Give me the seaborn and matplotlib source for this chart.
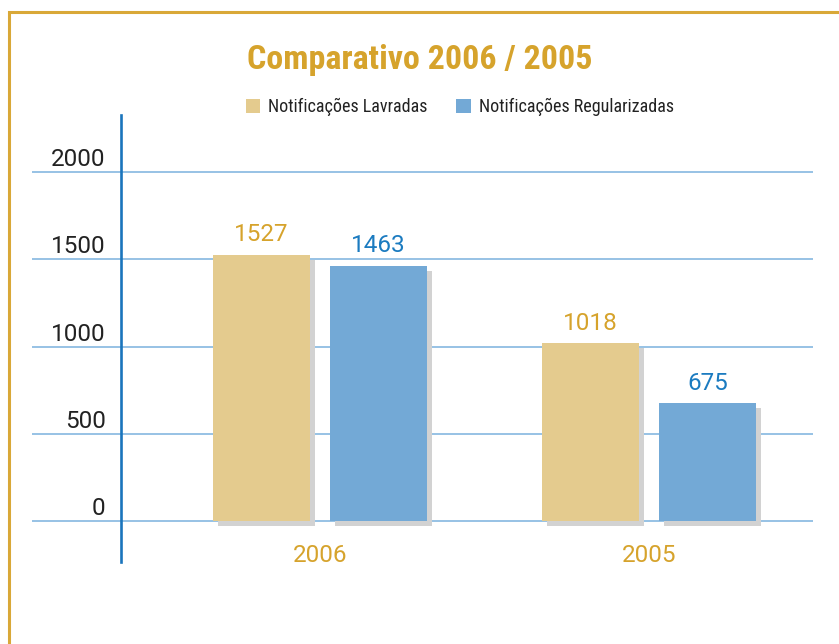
import pandas as pd
import matplotlib.pyplot as plt
import matplotlib.patheffects as pe
from matplotlib import font_manager
from matplotlib.transforms import ScaledTranslation
from matplotlib.patches import Rectangle
import seaborn as sns

# data
anos = ["2006", "2005"]
series = ["Notificações Lavradas", "Notificações Regularizadas"]
lavradas = [1527, 1018]
regularizadas = [1463, 675]
yticks = [0, 500, 1000, 1500, 2000]

gold = "#D6A32C"
gold_bar = "#E4CB8E"
blue_bar = "#73A9D6"
blue_txt = "#1B7BC0"
grid_c = "#8FBDE3"

df = pd.DataFrame({
    "ano": anos * 2,
    "serie": [series[0]] * len(anos) + [series[1]] * len(anos),
    "valor": lavradas + regularizadas,
})

sns.set_theme(style="white")
plt.rcParams['font.family'] = ['Roboto', 'DejaVu Sans']

# look for a condensed face for title / legend
installed = {f.name for f in font_manager.fontManager.ttflist}
cond_names = ['Roboto Condensed', 'Liberation Sans Narrow', 'DejaVu Sans Condensed',
              'Open Sans Condensed', 'Noto Sans Condensed']
found = [n for n in cond_names if n in installed]
if found:
    narrow = [found[0], 'DejaVu Sans']
    stretch = 'normal'
else:
    narrow = ['DejaVu Sans']
    stretch = 'condensed'

fig = plt.figure(figsize=(8.39, 6.44), dpi=100)
ax = fig.add_axes([0.0381, 0.1273, 0.931, 0.6941])

sns.barplot(data=df, x="ano", y="valor", hue="serie", order=anos, hue_order=series,
            palette=[gold_bar, blue_bar], width=0.711, gap=0.171, errorbar=None,
            saturation=1, ax=ax, zorder=3)

shadow = [pe.SimplePatchShadow(offset=(3.6, -3.6), shadow_rgbFace="#D2D2D2", alpha=1.0), pe.Normal()]
for p in ax.patches:
    p.set_path_effects(shadow)
    p.set_linewidth(0)

# value labels
for cont, col in zip(ax.containers, [gold, blue_txt]):
    ax.bar_label(cont, fmt="%d", color=col, fontsize=17.5, padding=6)

ax.set_xlim(-0.875, 1.498)
ax.set_ylim(-235, 2327)
ax.set_yticks(yticks)
ax.set_yticklabels([str(t) for t in yticks])
ax.grid(axis="y", color=grid_c, lw=1.3)
ax.set_axisbelow(True)
ax.set_xlabel("")
ax.set_ylabel("")

for s in ["top", "right", "bottom"]:
    ax.spines[s].set_visible(False)
ax.spines["left"].set_position(("data", -0.605))
ax.spines["left"].set_color("#1A75BC")
ax.spines["left"].set_linewidth(1.9)

ax.tick_params(axis="y", length=0, pad=11, labelsize=17.5, labelcolor="#222222")
ax.tick_params(axis="x", length=0, pad=-13, labelsize=17.5, labelcolor=gold)
for lab in ax.get_yticklabels():
    lab.set_transform(lab.get_transform() + ScaledTranslation(0, 0.15, fig.dpi_scale_trans))

leg = ax.legend(loc="center", bbox_to_anchor=(0.548, 0.834), bbox_transform=fig.transFigure,
                ncol=2, frameon=False, handlelength=0.8, handleheight=0.8,
                handletextpad=0.45, columnspacing=1.6,
                prop={"family": narrow, "size": 13, "stretch": stretch})
for t in leg.get_texts():
    t.set_color("#222222")
for h in leg.legend_handles:
    h.set_path_effects([])

fig.text(0.5, 1 - 60 / 644, "Comparativo 2006 / 2005", ha="center", va="center",
         fontsize=24.5, fontweight="bold", color=gold, family=narrow, fontstretch=stretch)

# gold frame around the figure
fig.patches.append(Rectangle((9 / 839, -0.2), 1.2, 1.2 - 12 / 644, transform=fig.transFigure,
                             fill=False, edgecolor="#D9A838", lw=2.2))

fig.savefig("out.png", dpi=100)
